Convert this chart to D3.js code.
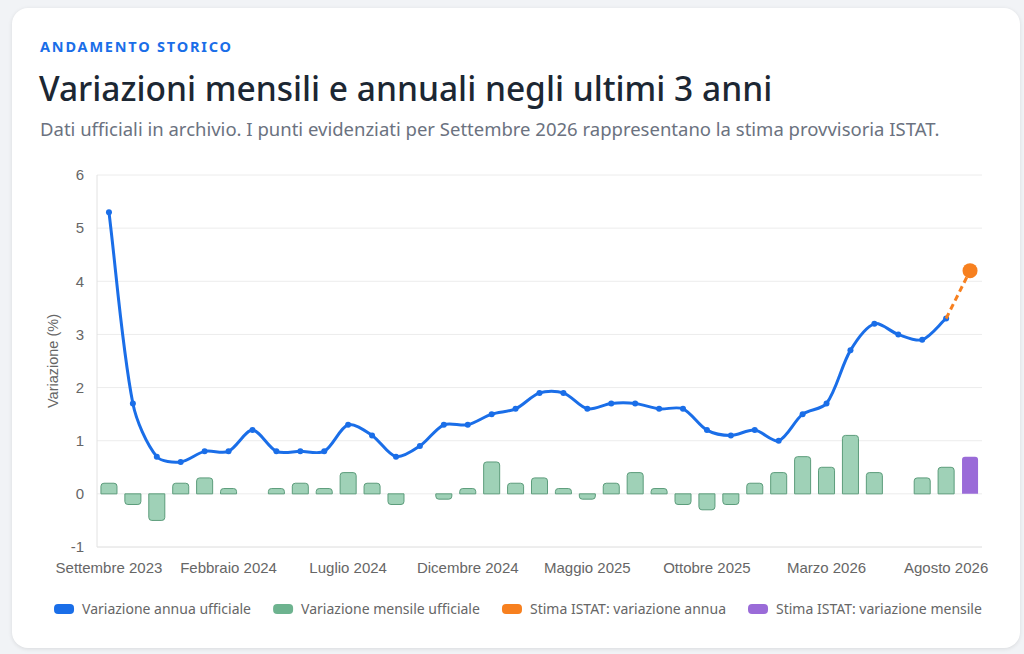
<!DOCTYPE html>
<html lang="it">
<head>
<meta charset="utf-8">
<script src="https://cdn.jsdelivr.net/npm/d3@7"></script>
<style>
  body { margin: 0; background: #f1f3f6; font-family: "Noto Sans", "Open Sans", sans-serif; }
  #card {
    position: absolute; left: 12px; top: 8px; width: 1008px; height: 640px;
    background: #fff; border-radius: 16px; box-shadow: 0 1px 4px rgba(0,0,0,0.10);
  }
  svg { position: absolute; left: 0; top: 0; }
</style>
</head>
<body>
<div id="card"></div>
<div id="chart"></div>
<script>
// Months shown on the x axis (Sep 2023 -> Sep 2026)
const months = [
  "Settembre 2023", "Ottobre 2023", "Novembre 2023", "Dicembre 2023",
  "Gennaio 2024", "Febbraio 2024", "Marzo 2024", "Aprile 2024", "Maggio 2024", "Giugno 2024",
  "Luglio 2024", "Agosto 2024", "Settembre 2024", "Ottobre 2024", "Novembre 2024", "Dicembre 2024",
  "Gennaio 2025", "Febbraio 2025", "Marzo 2025", "Aprile 2025", "Maggio 2025", "Giugno 2025",
  "Luglio 2025", "Agosto 2025", "Settembre 2025", "Ottobre 2025", "Novembre 2025", "Dicembre 2025",
  "Gennaio 2026", "Febbraio 2026", "Marzo 2026", "Aprile 2026", "Maggio 2026", "Giugno 2026",
  "Luglio 2026", "Agosto 2026", "Settembre 2026"
];

// Labels actually printed under the axis
const tickLabels = ["Settembre 2023", "Febbraio 2024", "Luglio 2024", "Dicembre 2024",
  "Maggio 2025", "Ottobre 2025", "Marzo 2026", "Agosto 2026"];

// Official annual variation (%), Sep 2023 -> Aug 2026
const annualOfficial = [
  5.3, 1.7, 0.7, 0.6, 0.8, 0.8, 1.2, 0.8, 0.8, 0.8, 1.3, 1.1,
  0.7, 0.9, 1.3, 1.3, 1.5, 1.6, 1.9, 1.9, 1.6, 1.7, 1.7, 1.6,
  1.6, 1.2, 1.1, 1.2, 1.0, 1.5, 1.7, 2.7, 3.2, 3.0, 2.9, 3.3
];

// Official monthly variation (%), Sep 2023 -> Aug 2026
const monthlyOfficial = [
  0.2, -0.2, -0.5, 0.2, 0.3, 0.1, 0, 0.1, 0.2, 0.1, 0.4, 0.2,
  -0.2, 0, -0.1, 0.1, 0.6, 0.2, 0.3, 0.1, -0.1, 0.2, 0.4, 0.1,
  -0.2, -0.3, -0.2, 0.2, 0.4, 0.7, 0.5, 1.1, 0.4, 0, 0.3, 0.5
];

// ISTAT provisional estimate for Settembre 2026
const estimateMonth = "Settembre 2026";
const estimateAnnual = 4.2;
const estimateMonthly = 0.7;

const yTicks = [-1, 0, 1, 2, 3, 4, 5, 6];

const legendItems = [
  { label: "Variazione annua ufficiale", color: "#1a6ee8" },
  { label: "Variazione mensile ufficiale", color: "#6db38f" },
  { label: "Stima ISTAT: variazione annua", color: "#f7801f" },
  { label: "Stima ISTAT: variazione mensile", color: "#9a6bd8" }
];

const W = 1024, H = 654;
const margin = { top: 175, right: 42, bottom: 107, left: 97 };
const width = W - margin.left - margin.right;
const height = H - margin.top - margin.bottom;
const axisFont = "'Liberation Sans', Arial, sans-serif";

const svg = d3.select("#chart").append("svg")
  .attr("width", W)
  .attr("height", H);

// Header texts
svg.append("text")
  .attr("x", 40).attr("y", 52)
  .attr("fill", "#1a6ee8")
  .style("font-size", "14.5px")
  .style("font-weight", "700")
  .style("letter-spacing", "1.8px")
  .text("ANDAMENTO STORICO");

svg.append("text")
  .attr("x", 39).attr("y", 101)
  .attr("fill", "#1c2733")
  .style("font-size", "33.5px")
  .style("font-weight", "500")
  .text("Variazioni mensili e annuali negli ultimi 3 anni");

svg.append("text")
  .attr("x", 40).attr("y", 136)
  .attr("fill", "#6b7280")
  .style("font-size", "18.5px")
  .text("Dati ufficiali in archivio. I punti evidenziati per Settembre 2026 rappresentano la stima provvisoria ISTAT.");

const g = svg.append("g").attr("transform", `translate(${margin.left},${margin.top})`);

// Scales
const x = d3.scaleBand().domain(months).range([0, width]).paddingInner(0);
const xc = d => x(d) + x.bandwidth() / 2;
const y = d3.scaleLinear().domain([-1, 6]).range([height, 0]);

// Gridlines
g.append("g")
  .selectAll("line")
  .data(yTicks)
  .join("line")
  .attr("x1", 0).attr("x2", width)
  .attr("y1", d => y(d)).attr("y2", d => y(d))
  .attr("stroke", d => d === -1 ? "#dcdcdc" : "#ececec")
  .attr("stroke-width", 1);

// Left axis line
g.append("line")
  .attr("x1", 0).attr("x2", 0)
  .attr("y1", 0).attr("y2", height)
  .attr("stroke", "#e2e2e2");

// Y axis
const yAxis = g.append("g")
  .call(d3.axisLeft(y).tickValues(yTicks).tickFormat(d => String(d).replace("\u2212", "-")).tickSize(0).tickPadding(13));
yAxis.select(".domain").remove();
yAxis.selectAll("text")
  .attr("fill", "#666")
  .style("font-family", axisFont)
  .style("font-size", "15px");

// Y axis title
g.append("text")
  .attr("transform", "rotate(-90)")
  .attr("x", -height / 2)
  .attr("y", -39)
  .attr("text-anchor", "middle")
  .attr("fill", "#666")
  .style("font-family", axisFont)
  .style("font-size", "14.5px")
  .text("Variazione (%)");

// X axis
const xAxis = g.append("g")
  .attr("transform", `translate(0,${height})`)
  .call(d3.axisBottom(x).tickValues(tickLabels).tickSize(0).tickPadding(15));
xAxis.select(".domain").remove();
xAxis.selectAll("text")
  .attr("fill", "#666")
  .style("font-family", axisFont)
  .style("font-size", "15px");

// Bars (rounded on the free end)
const barW = x.bandwidth() * 0.67;
const r = 3;
function barPath(cx, v) {
  const x0 = cx - barW / 2, x1 = cx + barW / 2;
  const yb = y(0), yt = y(v);
  if (v === 0) return "";
  if (v > 0) {
    return `M${x0},${yb} V${yt + r} Q${x0},${yt} ${x0 + r},${yt} H${x1 - r} Q${x1},${yt} ${x1},${yt + r} V${yb} Z`;
  }
  return `M${x0},${yb} V${yt - r} Q${x0},${yt} ${x0 + r},${yt} H${x1 - r} Q${x1},${yt} ${x1},${yt - r} V${yb} Z`;
}

const monthlyData = monthlyOfficial.map((v, i) => ({ m: months[i], v }));
g.append("g")
  .selectAll("path")
  .data(monthlyData)
  .join("path")
  .attr("d", d => barPath(xc(d.m), d.v))
  .attr("fill", "#9fd1b7")
  .attr("stroke", "#5c9c7b")
  .attr("stroke-width", 1);

g.append("path")
  .attr("d", barPath(xc(estimateMonth), estimateMonthly))
  .attr("fill", "#9a6bd8");

// Annual line: spline weighted by segment length (light tension)
const annualData = annualOfficial.map((v, i) => ({ m: months[i], v }));
function splinePath(data, t) {
  const pts = data.map(d => [xc(d.m), y(d.v)]);
  const ctrl = pts.map((p, i) => {
    const prev = pts[i - 1] || p, next = pts[i + 1] || p;
    const d01 = Math.hypot(p[0] - prev[0], p[1] - prev[1]);
    const d12 = Math.hypot(next[0] - p[0], next[1] - p[1]);
    const s = d01 + d12 || 1;
    const fa = t * d01 / s, fb = t * d12 / s;
    return {
      prev: [p[0] - fa * (next[0] - prev[0]), p[1] - fa * (next[1] - prev[1])],
      next: [p[0] + fb * (next[0] - prev[0]), p[1] + fb * (next[1] - prev[1])]
    };
  });
  const path = d3.path();
  path.moveTo(pts[0][0], pts[0][1]);
  for (let i = 1; i < pts.length; i++) {
    const c1 = ctrl[i - 1].next, c2 = ctrl[i].prev;
    path.bezierCurveTo(c1[0], c1[1], c2[0], c2[1], pts[i][0], pts[i][1]);
  }
  return path.toString();
}

g.append("path")
  .attr("d", splinePath(annualData, 0.3))
  .attr("fill", "none")
  .attr("stroke", "#1a6ee8")
  .attr("stroke-width", 3);

g.append("g")
  .selectAll("circle")
  .data(annualData)
  .join("circle")
  .attr("cx", d => xc(d.m))
  .attr("cy", d => y(d.v))
  .attr("r", 3)
  .attr("fill", "#1a6ee8");

// Dashed link to the estimate
const last = annualData[annualData.length - 1];
g.append("line")
  .attr("x1", xc(last.m)).attr("y1", y(last.v))
  .attr("x2", xc(estimateMonth)).attr("y2", y(estimateAnnual))
  .attr("stroke", "#f7801f")
  .attr("stroke-width", 3)
  .attr("stroke-dasharray", "6,4");

g.append("circle")
  .attr("cx", xc(estimateMonth))
  .attr("cy", y(estimateAnnual))
  .attr("r", 7.5)
  .attr("fill", "#f7801f");

// Legend
const legend = svg.append("g").attr("transform", "translate(0,609)");
const items = legend.selectAll("g")
  .data(legendItems)
  .join("g");
items.append("rect")
  .attr("width", 20).attr("height", 10)
  .attr("y", -5).attr("rx", 4)
  .attr("fill", d => d.color);
items.append("text")
  .attr("x", 28).attr("dy", "0.35em")
  .attr("fill", "#666")
  .style("font-family", "'Noto Sans', sans-serif")
  .style("font-size", "14px")
  .text(d => d.label);

let cursor = 0;
const gap = 22;
const offsets = [];
items.each(function () {
  const w = this.getBBox().width;
  offsets.push(cursor);
  cursor += w + gap;
});
const total = cursor - gap;
const startX = 518 - total / 2;
items.attr("transform", (d, i) => `translate(${startX + offsets[i]},0)`);
</script>
</body>
</html>
